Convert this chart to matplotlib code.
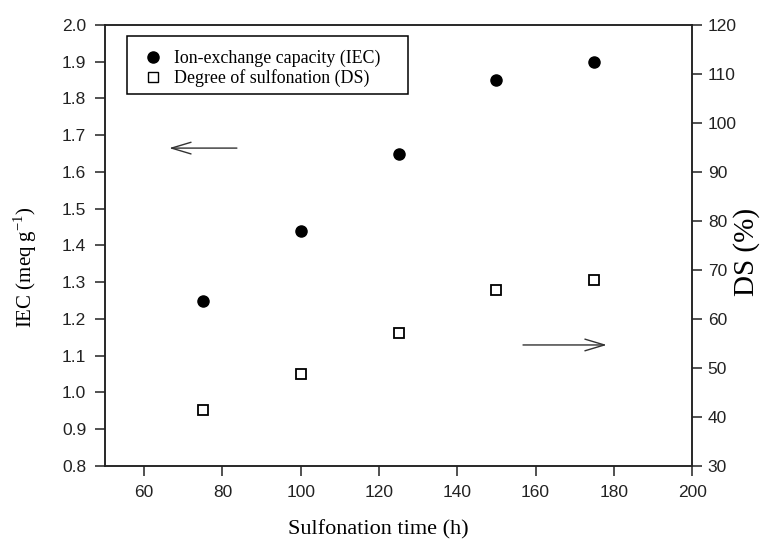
import matplotlib
matplotlib.use("Agg")
import matplotlib.pyplot as plt
from matplotlib.lines import Line2D
from matplotlib.patches import Rectangle

time_h = [75, 100, 125, 150, 175]
iec = [1.25, 1.44, 1.65, 1.85, 1.90]
ds = [41.5, 48.7, 57.1, 65.9, 68.0]

x_ticks = [60, 80, 100, 120, 140, 160, 180, 200]
iec_ticks = [0.8, 0.9, 1.0, 1.1, 1.2, 1.3, 1.4, 1.5, 1.6, 1.7, 1.8, 1.9, 2.0]
ds_ticks = [30, 40, 50, 60, 70, 80, 90, 100, 110, 120]

sans = "Liberation Sans"
serif = "Liberation Serif"
tick_fs = 12.5

fig = plt.figure(figsize=(7.69, 5.43), dpi=100)
ax = fig.add_axes([0.1365, 0.1418, 0.9 - 0.1365, 0.954 - 0.1418])
ax2 = ax.twinx()

ax.plot(time_h, iec, linestyle="none", marker="o", markersize=8,
        color="black", label="Ion-exchange capacity (IEC)")
ax2.plot(time_h, ds, linestyle="none", marker="s", markersize=6.5,
         markerfacecolor="white", markeredgecolor="black", markeredgewidth=1.3,
         label="Degree of sulfonation (DS)")

ax.set_xlim(50, 200)
ax.set_ylim(0.8, 2.0)
ax2.set_ylim(30, 120)
ax.set_xticks(x_ticks)
ax.set_yticks(iec_ticks)
ax2.set_yticks(ds_ticks)
ax.set_xticklabels([str(v) for v in x_ticks], fontfamily=sans, fontsize=tick_fs)
ax.set_yticklabels([f"{v:.1f}" for v in iec_ticks], fontfamily=sans, fontsize=tick_fs)
ax2.set_yticklabels([str(v) for v in ds_ticks], fontfamily=sans, fontsize=tick_fs)

for a in (ax, ax2):
    for s in a.spines.values():
        s.set_linewidth(1.1)
        s.set_color("#222222")
ax.tick_params(axis="both", direction="out", length=7, width=1.1, colors="#222222")
ax.tick_params(axis="y", pad=6.5)
ax.tick_params(axis="x", pad=6.5)
ax2.tick_params(axis="y", direction="out", length=7, width=1.1, pad=4.3, colors="#222222")

ax.set_xlabel("Sulfonation time (h)", fontfamily=serif, fontsize=16, va="center")
ax.xaxis.set_label_coords(0.465, -0.145)
ax.set_ylabel("IEC (meq g$^{\\mathregular{-1}}$)", fontfamily=serif, fontsize=15,
              va="center", ha="center")
ax.yaxis.set_label_coords(-0.136, 0.451)
ax2.set_ylabel("DS (%)", fontfamily=serif, fontsize=21, va="center", ha="center")
ax2.yaxis.set_label_coords(1.092, 0.485)

# arrows
arrow_kw = dict(arrowstyle="->,head_length=1.4,head_width=0.42",
                color="#333333", lw=1.0, shrinkA=0, shrinkB=0)
ax.annotate("", xy=(66.4, 1.665), xytext=(83.7, 1.665), arrowprops=arrow_kw)
ax2.annotate("", xy=(178.2, 54.7), xytext=(156.8, 54.7), arrowprops=arrow_kw)

# legend (frame drawn separately)
handles = [Line2D([], [], linestyle="none", marker="o", markersize=8, color="black"),
           Line2D([], [], linestyle="none", marker="s", markersize=6.5, markerfacecolor="white",
                  markeredgecolor="black", markeredgewidth=1.0)]
leg = ax2.legend(handles, ["Ion-exchange capacity (IEC)", "Degree of sulfonation (DS)"],
                 loc="upper left", bbox_to_anchor=(0.0664, 0.943),
                 prop={"family": serif, "size": 12.9}, frameon=False,
                 handlelength=1.0, handletextpad=0.7,
                 borderpad=0, labelspacing=0.1, borderaxespad=0)
ax2.add_patch(Rectangle((0.0375, 0.8435), 0.516 - 0.0375, 0.975 - 0.8435,
                        transform=ax2.transAxes, fill=False, edgecolor="black",
                        linewidth=1.1, zorder=5))

fig.savefig("out.png", dpi=100)
